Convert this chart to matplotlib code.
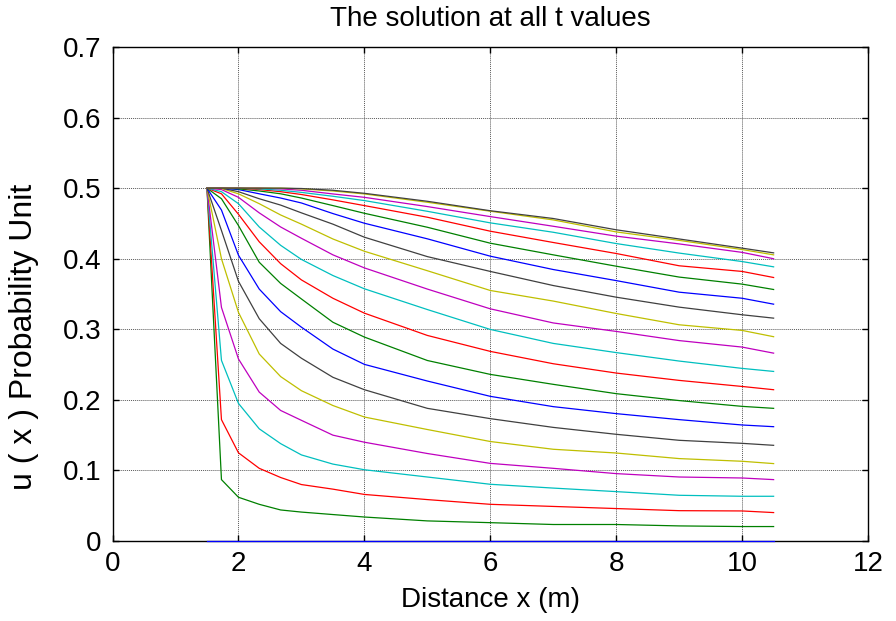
import matplotlib
matplotlib.use('Agg')
import matplotlib.pyplot as plt

x_pts = [1.5, 1.73, 2.0, 2.33, 2.67, 3.0, 3.5, 4, 5, 6, 7, 8, 9, 10, 10.5]

# solution u(x) for each time step, t0 (bottom) .. t20 (top)
u0 = [0.0] * 15
u1 = [0.5, 0.087, 0.062, 0.052, 0.044, 0.041, 0.0375, 0.034, 0.0285, 0.026, 0.0234, 0.0234, 0.0214, 0.0205, 0.0205]
u2 = [0.5, 0.172, 0.125, 0.103, 0.090, 0.080, 0.0735, 0.066, 0.0587, 0.052, 0.049, 0.046, 0.043, 0.0426, 0.0403]
u3 = [0.5, 0.256, 0.195, 0.159, 0.138, 0.122, 0.109, 0.101, 0.0907, 0.0804, 0.075, 0.070, 0.0648, 0.0634, 0.0634]
u4 = [0.5, 0.331, 0.258, 0.211, 0.185, 0.171, 0.150, 0.140, 0.124, 0.110, 0.103, 0.0955, 0.0907, 0.0893, 0.087]
u5 = [0.5, 0.400, 0.324, 0.265, 0.233, 0.213, 0.192, 0.1757, 0.158, 0.141, 0.130, 0.1247, 0.1168, 0.113, 0.1097]
u6 = [0.5, 0.440, 0.368, 0.315, 0.280, 0.259, 0.232, 0.2144, 0.188, 0.1734, 0.161, 0.1512, 0.1427, 0.1384, 0.1356]
u7 = [0.5, 0.469, 0.405, 0.357, 0.325, 0.303, 0.272, 0.2503, 0.2267, 0.205, 0.1904, 0.1805, 0.172, 0.1644, 0.162]
u8 = [0.5, 0.485, 0.447, 0.395, 0.365, 0.343, 0.310, 0.289, 0.2558, 0.2361, 0.222, 0.2088, 0.199, 0.1908, 0.188]
u9 = [0.5, 0.492, 0.463, 0.424, 0.393, 0.370, 0.344, 0.3229, 0.2913, 0.2687, 0.2512, 0.238, 0.2276, 0.219, 0.2144]
u10 = [0.5, 0.495, 0.478, 0.445, 0.419, 0.399, 0.3762, 0.3574, 0.328, 0.2998, 0.280, 0.267, 0.255, 0.2446, 0.2403]
u11 = [0.5, 0.498, 0.487, 0.465, 0.445, 0.429, 0.4055, 0.387, 0.357, 0.329, 0.309, 0.297, 0.284, 0.2748, 0.2662]
u12 = [0.5, 0.4995, 0.492, 0.478, 0.462, 0.449, 0.428, 0.4106, 0.383, 0.355, 0.340, 0.3224, 0.3064, 0.2984, 0.2895]
u13 = [0.5, 0.5, 0.495, 0.485, 0.476, 0.465, 0.449, 0.4305, 0.403, 0.382, 0.362, 0.3455, 0.3314, 0.3206, 0.3158]
u14 = [0.5, 0.5, 0.498, 0.492, 0.486, 0.479, 0.464, 0.4503, 0.4282, 0.4036, 0.3847, 0.369, 0.3526, 0.344, 0.3356]
u15 = [0.5, 0.5, 0.499, 0.496, 0.492, 0.486, 0.4753, 0.4644, 0.4446, 0.422, 0.4055, 0.3894, 0.374, 0.364, 0.3564]
u16 = [0.5, 0.5, 0.5, 0.498, 0.495, 0.491, 0.4834, 0.4753, 0.4588, 0.439, 0.423, 0.4074, 0.390, 0.382, 0.3734]
u17 = [0.5, 0.5, 0.5, 0.499, 0.497, 0.494, 0.4885, 0.4824, 0.4672, 0.4508, 0.4375, 0.4215, 0.408, 0.396, 0.3885]
u18 = [0.5, 0.5, 0.5, 0.5, 0.499, 0.497, 0.4918, 0.487, 0.4739, 0.4597, 0.446, 0.432, 0.421, 0.409, 0.400]
u19 = [0.5, 0.5, 0.5, 0.5, 0.5, 0.499, 0.496, 0.4918, 0.480, 0.4673, 0.455, 0.438, 0.426, 0.413, 0.4055]
u20 = [0.5, 0.5, 0.5, 0.5, 0.5, 0.4995, 0.497, 0.4927, 0.4814, 0.468, 0.457, 0.441, 0.428, 0.415, 0.4083]

curves = [u0, u1, u2, u3, u4, u5, u6, u7, u8, u9, u10,
          u11, u12, u13, u14, u15, u16, u17, u18, u19, u20]

# old MATLAB line colour order
matlab_colors = [(0, 0, 1), (0, 0.5, 0), (1, 0, 0), (0, 0.75, 0.75),
                 (0.75, 0, 0.75), (0.75, 0.75, 0), (0.25, 0.25, 0.25)]

plt.rcParams['font.family'] = ['Liberation Sans', 'DejaVu Sans']

fig = plt.figure(figsize=(8.96, 6.21), dpi=100)
ax = fig.add_axes([0.1256, 0.1288, 0.8432, 0.7955])

for i, u in enumerate(curves):
    ax.plot(x_pts, u, color=matlab_colors[i % 7], lw=0.9, zorder=3,
            clip_on=(i != 0))

ax.set_xlim(0, 12)
ax.set_ylim(0, 0.7)
ax.set_xticks(range(0, 13, 2))
ax.set_yticks([0, 0.1, 0.2, 0.3, 0.4, 0.5, 0.6, 0.7])
ax.set_yticklabels(['0', '0.1', '0.2', '0.3', '0.4', '0.5', '0.6', '0.7'])

ax.grid(True, linestyle=(0, (1, 1)), color='0.35', lw=0.7)
ax.tick_params(direction='in', length=4, width=1, top=True, right=True,
               labelsize=20)
ax.tick_params(axis='x', pad=7)
ax.tick_params(axis='y', pad=8)
for s in ax.spines.values():
    s.set_linewidth(1.0)

ax.set_title('The solution at all t values', fontsize=20, pad=15)
ax.set_xlabel('Distance x (m)', fontsize=20)
ax.set_ylabel('u ( x ) Probability Unit', fontsize=23)
ax.xaxis.set_label_coords(0.5, -0.093)
ax.yaxis.set_label_coords(-0.097, 0.413)

fig.savefig('out.png', dpi=100)
